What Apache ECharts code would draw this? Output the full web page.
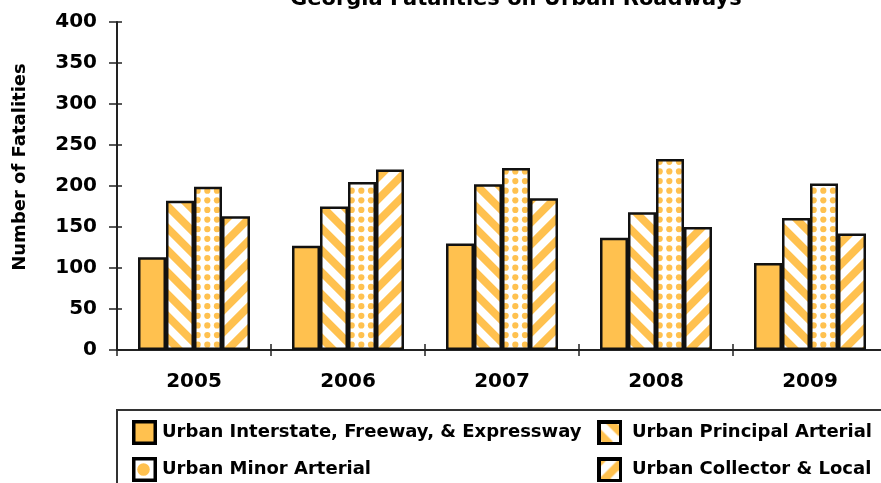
<!DOCTYPE html>
<html>
<head>
<meta charset="utf-8">
<script src="https://cdn.jsdelivr.net/npm/echarts@6/dist/echarts.min.js"></script>
<style>html,body{margin:0;padding:0;background:#fff;}#c{width:881px;height:483px;}</style>
</head>
<body>
<div id="c"></div>
<script>
const categories = ['2005', '2006', '2007', '2008', '2009'];
const interstate = [113, 127, 130, 137, 106];
const principal = [182, 175, 202, 168, 161];
const minor = [199, 205, 222, 233, 203];
const collector = [163, 220, 185, 150, 142];
const seriesNames = ['Urban Interstate, Freeway, & Expressway', 'Urban Principal Arterial', 'Urban Minor Arterial', 'Urban Collector & Local'];

const ORANGE = '#FFC14F';
const ORGB = [255, 193, 79];
const FONT = 'DejaVu Sans';

function stripeCanvas(size, period, dir, phase) {
  const c = document.createElement('canvas');
  c.width = size; c.height = size;
  const ctx = c.getContext('2d');
  const img = ctx.createImageData(size, size);
  const S = 4;
  for (let y = 0; y < size; y++) {
    for (let x = 0; x < size; x++) {
      let cov = 0;
      for (let sy = 0; sy < S; sy++) for (let sx = 0; sx < S; sx++) {
        const px = x + (sx + 0.5) / S, py = y + (sy + 0.5) / S;
        let v = dir > 0 ? (px - py) : (px + py);
        v = ((v + phase) % period + period) % period;
        if (v < period / 2) cov++;
      }
      cov /= S * S;
      const i = (y * size + x) * 4;
      img.data[i] = Math.round(255 * (1 - cov) + ORGB[0] * cov);
      img.data[i + 1] = Math.round(255 * (1 - cov) + ORGB[1] * cov);
      img.data[i + 2] = Math.round(255 * (1 - cov) + ORGB[2] * cov);
      img.data[i + 3] = 255;
    }
  }
  ctx.putImageData(img, 0, 0);
  return c;
}

function dotCanvas() {
  const w = 154, p = 154 / 16;
  const c = document.createElement('canvas');
  c.width = w; c.height = 77;
  const ctx = c.getContext('2d');
  ctx.fillStyle = '#fff';
  ctx.fillRect(0, 0, w, 77);
  ctx.fillStyle = ORANGE;
  for (let k = -1; k <= 17; k++) {
    for (let j = -1; j <= 9; j++) {
      ctx.beginPath();
      ctx.arc(5.2 + k * p, 7.8 + j * 77 / 8, 3.1, 0, Math.PI * 2);
      ctx.fill();
    }
  }
  return c;
}

// legend icon images (border drawn into the image)
function iconImage(kind) {
  const N = 25, B = 3.5;
  const c = document.createElement('canvas');
  c.width = N; c.height = N;
  const ctx = c.getContext('2d');
  ctx.fillStyle = '#000';
  ctx.fillRect(0, 0, N, N);
  const inner = N - 2 * B;
  if (kind === 'solid') {
    ctx.fillStyle = ORANGE;
    ctx.fillRect(B, B, inner, inner);
  } else if (kind === 'dot') {
    ctx.fillStyle = '#fff';
    ctx.fillRect(B, B, inner, inner);
    ctx.fillStyle = ORANGE;
    ctx.beginPath(); ctx.arc(N / 2 - 1, N / 2, 6.3, 0, Math.PI * 2); ctx.fill();
  } else {
    const s = stripeCanvas(Math.ceil(inner), 22, kind === 'back' ? 1 : -1, kind === 'back' ? 16.5 : 5);
    ctx.drawImage(s, 0, 0, inner, inner, B, B, inner, inner);
  }
  return 'image://' + c.toDataURL();
}

const pPrincipal = { image: stripeCanvas(22, 22, 1, 0), repeat: 'repeat' };
const pCollector = { image: stripeCanvas(22, 22, -1, 0), repeat: 'repeat' };
const pMinor = { image: dotCanvas(), repeat: 'repeat' };

const chart = echarts.init(document.getElementById('c'));

function barSeries(name, data, color) {
  return {
    name: name, type: 'bar', data: data, barWidth: 28, barGap: '0%',
    itemStyle: { color: color, borderColor: '#111', borderWidth: 2.5 },
    emphasis: { disabled: true }, animation: false
  };
}

const legendText = { fontSize: 18, fontWeight: 'bold', color: '#000', fontFamily: FONT };
const legendCommon = {
  orient: 'vertical', top: 420, height: 120, padding: 0, itemGap: 12, itemWidth: 25, itemHeight: 25,
  textStyle: legendText, selectedMode: false
};

chart.setOption({
  animation: false,
  backgroundColor: '#fff',
  title: {
    text: 'Georgia Fatalities on Urban Roadways', left: 290, top: -11, padding: 0,
    textStyle: { fontSize: 21, fontWeight: 'bold', color: '#000', fontFamily: FONT }
  },
  grid: { left: 117, top: 22, width: 770, height: 328, containLabel: false, outerBoundsMode: 'none' },
  legend: [
    Object.assign({}, legendCommon, {
      left: 132,
      data: [{ name: seriesNames[0], icon: iconImage('solid') }, { name: seriesNames[2], icon: iconImage('dot') }]
    }),
    Object.assign({}, legendCommon, {
      left: 597,
      textStyle: Object.assign({}, legendText, { padding: [0, 0, 0, 5] }),
      data: [{ name: seriesNames[1], icon: iconImage('back') }, { name: seriesNames[3], icon: iconImage('fwd') }]
    })
  ],
  xAxis: [
    {
      type: 'category', data: categories, position: 'bottom',
      axisLine: { lineStyle: { color: '#222', width: 2 } },
      axisTick: { show: true, length: 6, lineStyle: { color: '#222', width: 1.5 } },
      axisLabel: { fontSize: 20, fontWeight: 'bold', color: '#000', fontFamily: FONT, margin: 22 }
    },
    {
      type: 'category', data: categories, position: 'bottom',
      axisLine: { show: false },
      axisTick: { show: true, inside: true, length: 6, lineStyle: { color: '#222', width: 1.5 } },
      axisLabel: { show: false }
    }
  ],
  yAxis: [
    {
      type: 'value', min: 0, max: 400, interval: 50, position: 'left',
      splitLine: { show: false },
      axisLine: { show: true, lineStyle: { color: '#222', width: 2 } },
      axisTick: { show: true, length: 8, lineStyle: { color: '#222', width: 1.5 } },
      axisLabel: { fontSize: 20, fontWeight: 'bold', color: '#000', fontFamily: FONT, margin: 20 }
    },
    {
      type: 'value', min: 0, max: 400, interval: 50, position: 'left',
      splitLine: { show: false },
      axisLine: { show: false },
      axisTick: { show: true, inside: true, length: 5, lineStyle: { color: '#222', width: 1.5 } },
      axisLabel: { show: false }
    }
  ],
  graphic: [
    {
      type: 'text', x: 20, y: 167, rotation: Math.PI / 2,
      style: { text: 'Number of Fatalities', fontSize: 18, fontWeight: 'bold', fill: '#000', fontFamily: FONT, textAlign: 'center', textVerticalAlign: 'middle' }
    },
    {
      type: 'rect', shape: { x: 117, y: 410, width: 800, height: 120 },
      style: { fill: 'none', stroke: '#333', lineWidth: 2 }, z: -1
    }
  ],
  series: [
    barSeries(seriesNames[0], interstate, ORANGE),
    barSeries(seriesNames[1], principal, pPrincipal),
    barSeries(seriesNames[2], minor, pMinor),
    barSeries(seriesNames[3], collector, pCollector)
  ]
});
</script>
</body>
</html>
